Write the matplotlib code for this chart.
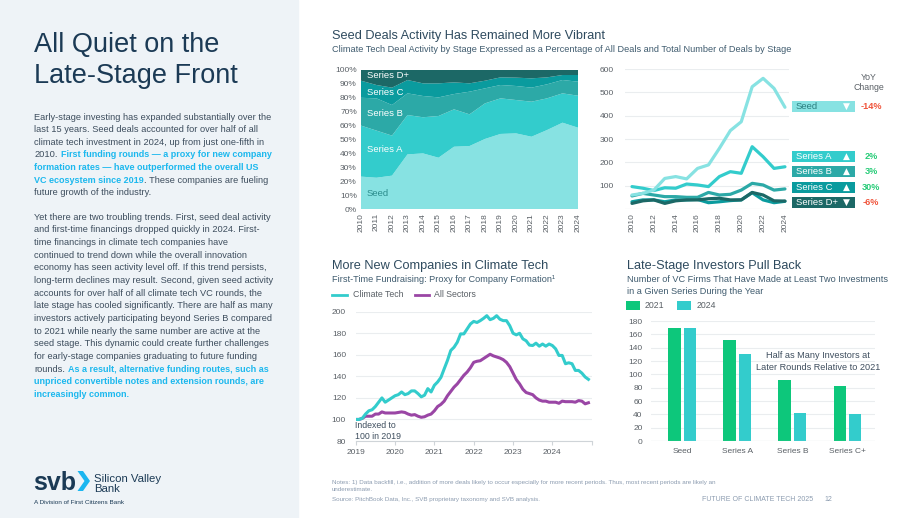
import matplotlib
matplotlib.use("Agg")
import matplotlib.pyplot as plt
from matplotlib.patches import Rectangle, Polygon
import numpy as np


# =========================================================
# Data
# =========================================================
STACK_YEARS = list(range(2010, 2025))
STACK_SEED = [23.3, 22.5, 24.0, 39.3, 40.0, 36.9, 44.8, 45.3, 50.4, 54.0, 54.4, 52.0, 56.8, 62.1, 58.5]
STACK_A    = [36.7, 33.9, 28.8, 28.3, 26.0, 30.0, 26.9, 22.8, 25.6, 25.6, 24.0, 25.2, 22.8, 21.1, 23.0]
STACK_B    = [20.0, 23.2, 22.0, 15.6, 15.3, 13.4, 11.0, 16.3, 10.8, 9.6, 10.1, 10.1, 10.1, 9.6, 10.1]
STACK_C    = [12.3, 9.6, 12.5, 9.6, 9.1, 10.1, 8.4, 6.0, 5.5, 5.5, 6.0, 6.7, 5.0, 3.6, 4.8]
STACK_D    = [7.7, 10.8, 12.7, 7.2, 9.6, 9.6, 8.9, 9.6, 7.7, 5.3, 5.5, 6.0, 5.3, 3.6, 3.6]

DEAL_YEARS = list(range(2010, 2025))
DEALS_SEED = [60, 67, 81, 131, 139, 129, 174, 189, 260, 336, 374, 524, 560, 517, 436]
DEALS_A    = [96, 89, 79, 91, 89, 107, 103, 96, 139, 160, 153, 267, 224, 174, 181]
DEALS_B    = [56, 67, 60, 53, 53, 50, 50, 71, 60, 63, 81, 110, 103, 81, 86]
DEALS_C    = [31, 39, 39, 31, 39, 39, 41, 27, 31, 36, 39, 70, 39, 27, 33]
DEALS_D    = [24, 35, 39, 24, 35, 39, 39, 44, 46, 39, 39, 71, 60, 35, 34]

YOY_LABELS = ["Seed", "Series A", "Series B", "Series C", "Series D+"]
YOY_VALUES = ["-14%", "2%", "3%", "30%", "-6%"]
YOY_UP     = [False, True, True, True, False]

# monthly index, Jan 2019 .. Dec 2024
CLIMATE_TECH = [100, 100, 101, 105, 108, 109, 112, 116, 120, 116, 118, 120,
                122, 123, 125.5, 123, 124, 126.5, 126.5, 124, 121, 122.5, 128.6, 125.5,
                131.7, 134.8, 139, 147, 154.8, 164, 167, 171.7, 179.4, 179.4, 184, 188.6,
                191, 190, 191.7, 193.8, 196.3, 192.6, 193.8, 196.3, 193, 191.7, 191.7, 187,
                180, 178.5, 180, 174.8, 173, 169, 168.6, 170.8, 168, 170, 168, 170,
                168.6, 165.5, 159.4, 159.4, 151.7, 152.6, 151.7, 145.5, 145.5, 143, 139.4, 137.2]
ALL_SECTORS = [100, 100, 101, 103, 103, 103, 105, 105, 107, 106, 106, 106,
               106, 106.5, 107, 106.5, 105, 104, 104.5, 103, 102, 102.5, 104, 105,
               108, 112, 114, 117, 122, 126, 130, 133, 137, 141, 144, 148,
               153, 154, 154.5, 156.5, 158.5, 160.5, 159, 158, 157, 155.5, 153, 149,
               143, 137, 133, 128, 125, 124, 123, 120, 118, 117, 117, 116,
               116, 116, 115, 117, 116.5, 116.5, 116.5, 116, 117.5, 117, 114.5, 115.5]

BAR_CATS = ["Seed", "Series A", "Series B", "Series C+"]
BAR_2021 = [169, 151, 91, 82]
BAR_2024 = [170, 130, 42, 41]


# =========================================================
# Style
# =========================================================
W, H = 920, 518
FONT = ["Liberation Sans", "DejaVu Sans"]
NARROW = ["Liberation Sans Narrow", "Liberation Sans", "DejaVu Sans"]
plt.rcParams["font.family"] = FONT

PANEL  = "#EEF3F7"
NAVY   = "#1B3A55"
BODY   = "#3E4E5E"
CYAN   = "#1CB8EE"
TITLE  = "#2E4A5E"
SUB    = "#3F5B6E"
TICK   = "#5A6066"
GRID   = "#EAEDEF"
AXLINE = "#CFD4D8"
NOTE   = "#8C9CB0"

SEED_C = "#87E2E2"
A_C    = "#33CCCC"
B_C    = "#2CA9A7"
C_C    = "#0A9B9E"
D_C    = "#1C6866"
GREEN  = "#0DC77B"
RED    = "#F0553C"
UPC    = "#27CC78"
PURPLE = "#9A46A5"

T_SIZE = 9.2
S_SIZE = 6.55


def rect(x0, y0, x1, y1):
    return [x0 / W, 1 - y1 / H, (x1 - x0) / W, (y1 - y0) / H]


def clean(ax):
    for s in ax.spines.values():
        s.set_visible(False)
    ax.set_facecolor("none")
    ax.tick_params(colors=TICK, labelsize=6, length=0, pad=3)


def body_line(ax, x, y, segments, size=6.7, bold_size=6.5):
    prev = None
    for txt, hl in segments:
        kw = dict(fontsize=bold_size if hl else size, color=CYAN if hl else BODY,
                  fontweight="bold" if hl else "normal")
        gap = 0
        if txt.startswith(" "):
            txt = txt[1:]
            gap = size * 0.28
        if prev is None:
            prev = ax.text(x, y, txt, va="baseline", ha="left", **kw)
        else:
            prev = ax.annotate(txt, xy=(1, 0), xycoords=prev, xytext=(gap, 0),
                               textcoords="offset points", va="bottom", ha="left", **kw)


# =========================================================
# Figure + background
# =========================================================
fig = plt.figure(figsize=(9.2, 5.18), dpi=100)
bg = fig.add_axes([0, 0, 1, 1])
bg.set_xlim(0, W)
bg.set_ylim(H, 0)
bg.axis("off")
bg.add_patch(Rectangle((0, 0), 298, H, color=PANEL, zorder=0))

# ---- left column ----
bg.text(34, 52, "All Quiet on the", fontsize=19.5, color=NAVY, va="baseline")
bg.text(34, 83, "Late-Stage Front", fontsize=19.5, color=NAVY, va="baseline")

PARA = [
    (119.5, [("Early-stage investing has expanded substantially over the", False)]),
    (132, [("last 15 years. Seed deals accounted for over half of all", False)]),
    (144.7, [("climate tech investment in 2024, up from just one-fifth in", False)]),
    (157.3, [("2010.", False), (" First funding rounds — a proxy for new company", True)]),
    (170, [("formation rates — have outperformed the overall US", True)]),
    (182.7, [("VC ecosystem since 2019", True), (". These companies are fueling", False)]),
    (195.3, [("future growth of the industry.", False)]),
    (219.7, [("Yet there are two troubling trends. First, seed deal activity", False)]),
    (232.3, [("and first-time financings dropped quickly in 2024. First-", False)]),
    (245, [("time financings in climate tech companies have", False)]),
    (257.5, [("continued to trend down while the overall innovation", False)]),
    (270.2, [("economy has seen activity level off. If this trend persists,", False)]),
    (282.8, [("long-term declines may result. Second, given seed activity", False)]),
    (295.5, [("accounts for over half of all climate tech VC rounds, the", False)]),
    (308.2, [("late stage has cooled significantly. There are half as many", False)]),
    (320.8, [("investors actively participating beyond Series B compared", False)]),
    (333.5, [("to 2021 while nearly the same number are active at the", False)]),
    (346.2, [("seed stage. This dynamic could create further challenges", False)]),
    (358.8, [("for early-stage companies graduating to future funding", False)]),
    (371.5, [("rounds.", False), (" As a result, alternative funding routes, such as", True)]),
    (384.2, [("unpriced convertible notes and extension rounds, are", True)]),
    (396.8, [("increasingly common.", True)]),
]
for yy, segs in PARA:
    body_line(bg, 34.5, yy, segs)

# ---- logo ----
bg.text(33, 490, "svb", fontsize=18, fontweight="bold", color=NAVY, va="baseline")
bg.add_patch(Polygon([(77.5, 471), (83, 471), (90, 481), (83, 491), (77.5, 491), (84.5, 481)],
                     closed=True, color="#1BB6F0", lw=0))
bg.text(94, 482.5, "Silicon Valley", fontsize=8.2, color=NAVY, va="baseline")
bg.text(94, 492.5, "Bank", fontsize=8.2, color=NAVY, va="baseline")
bg.text(34, 503.5, "A Division of First Citizens Bank", fontsize=4.6, color=NAVY, va="baseline")

# =========================================================
# Chart 1: stacked percent area
# =========================================================
bg.text(332, 38.5, "Seed Deals Activity Has Remained More Vibrant", fontsize=T_SIZE,
        color=TITLE, va="baseline", family=NARROW)
bg.text(332, 51.5, "Climate Tech Deal Activity by Stage Expressed as a Percentage of All Deals "
        "and Total Number of Deals by Stage", fontsize=S_SIZE, color=SUB, va="baseline", family=NARROW)

ax1 = fig.add_axes(rect(361, 70, 578, 209))
clean(ax1)
ax1.stackplot(STACK_YEARS, STACK_SEED, STACK_A, STACK_B, STACK_C, STACK_D,
              colors=[SEED_C, A_C, B_C, C_C, D_C], lw=0)
ax1.set_xlim(2010, 2024)
ax1.set_ylim(0, 100)
ax1.set_yticks(range(0, 101, 10))
ax1.set_yticklabels([f"{v}%" for v in range(0, 101, 10)])
ax1.set_xticks(STACK_YEARS)
ax1.set_xticklabels([str(y) for y in STACK_YEARS], rotation=90)

# =========================================================
# Chart 2: number of deals by stage
# =========================================================
ax2 = fig.add_axes(rect(625, 69, 789, 209))
clean(ax2)
ax2.set_xlim(2009.36, 2024.37)
ax2.set_ylim(0, 600)
ax2.set_yticks(range(100, 601, 100))
ax2.grid(axis="y", color=GRID, lw=0.8)
ax2.axhline(0, color=AXLINE, lw=0.8)
ax2.set_xticks(range(2010, 2025, 2))
ax2.set_xticklabels([str(y) for y in range(2010, 2025, 2)], rotation=90)
ax2.tick_params(axis="y", pad=8)
for vals, col in [(DEALS_C, C_C), (DEALS_B, B_C), (DEALS_D, D_C), (DEALS_A, A_C), (DEALS_SEED, SEED_C)]:
    ax2.plot(DEAL_YEARS, vals, color=col, lw=2.3, solid_joinstyle="round", solid_capstyle="round")

bg.text(869, 78, "YoY", fontsize=6.3, color=TICK, ha="center", va="center")
bg.text(869, 87, "Change", fontsize=6.3, color=TICK, ha="center", va="center")
box_tops = [101, 150.5, 166, 182, 197]
box_cols = [SEED_C, A_C, B_C, C_C, D_C]
for lab, val, up, top, col in zip(YOY_LABELS, YOY_VALUES, YOY_UP, box_tops, box_cols):
    bg.add_patch(Rectangle((792, top), 63, 11, color=col, lw=0))
    tcol = "#2B7F80" if lab == "Seed" else "white"
    bg.text(796, top + 5.7, lab, fontsize=6.8, color=tcol, va="center")
    bg.text(846, top + 5.7, "▲" if up else "▼", fontsize=6.5, color="white",
            ha="center", va="center", family=["DejaVu Sans"])
    bg.text(871, top + 5.7, val, fontsize=6.6, fontweight="bold",
            color=UPC if up else RED, ha="center", va="center")

# =========================================================
# Chart 3: first-time fundraising index
# =========================================================
bg.text(332, 269, "More New Companies in Climate Tech", fontsize=T_SIZE,
        color=TITLE, va="baseline", family=NARROW)
bg.text(332, 282, "First-Time Fundraising: Proxy for Company Formation¹", fontsize=S_SIZE,
        color=SUB, va="baseline", family=NARROW)
bg.plot([332, 347], [294.5, 294.5], color=A_C, lw=2)
bg.text(353, 294.5, "Climate Tech", fontsize=6.3, color=TICK, va="center")
bg.plot([415, 429], [294.5, 294.5], color=PURPLE, lw=2)
bg.text(434, 294.5, "All Sectors", fontsize=6.3, color=TICK, va="center")

months = 2019 + np.arange(len(CLIMATE_TECH)) / 12.0
ax3 = fig.add_axes(rect(355.7, 311.7, 591.7, 441))
clean(ax3)
ax3.set_xlim(2019, 2025)
ax3.set_ylim(80, 200)
ax3.set_yticks(range(80, 201, 20))
ax3.grid(axis="y", color=GRID, lw=0.8)
ax3.spines["bottom"].set_visible(True)
ax3.spines["bottom"].set_color(AXLINE)
ax3.set_xticks(range(2019, 2026))
ax3.set_xticklabels([str(y) for y in range(2019, 2025)] + [""])
ax3.tick_params(axis="x", length=3, color=AXLINE)
ax3.tick_params(axis="y", pad=7)
ax3.plot(months, ALL_SECTORS, color=PURPLE, lw=2.2, solid_joinstyle="round")
ax3.plot(months, CLIMATE_TECH, color=A_C, lw=2.2, solid_joinstyle="round")

# =========================================================
# Chart 4: investors by series
# =========================================================
bg.text(627, 269, "Late-Stage Investors Pull Back", fontsize=T_SIZE,
        color=TITLE, va="baseline", family=NARROW)
bg.text(627, 282, "Number of VC Firms That Have Made at Least Two Investments", fontsize=S_SIZE,
        color=SUB, va="baseline", family=NARROW)
bg.text(627, 294, "in a Given Series During the Year", fontsize=S_SIZE,
        color=SUB, va="baseline", family=NARROW)
bg.add_patch(Rectangle((626, 301), 14, 9, color=GREEN, lw=0))
bg.text(645, 305.7, "2021", fontsize=6.3, color=TICK, va="center")
bg.add_patch(Rectangle((677.5, 301), 14, 9, color=A_C, lw=0))
bg.text(697, 305.7, "2024", fontsize=6.3, color=TICK, va="center")

ax4 = fig.add_axes(rect(651, 321, 875, 441))
clean(ax4)
xpos = np.arange(len(BAR_CATS))
ax4.bar(xpos - 0.14, BAR_2021, width=0.227, color=GREEN, zorder=3)
ax4.bar(xpos + 0.14, BAR_2024, width=0.227, color=A_C, zorder=3)
ax4.set_xlim(-0.57, 3.5)
ax4.set_ylim(0, 180)
ax4.set_yticks(range(0, 181, 20))
ax4.grid(axis="y", color=GRID, lw=0.8, zorder=0)
ax4.axhline(0, color=AXLINE, lw=0.8, zorder=4)
ax4.set_xticks(xpos)
ax4.set_xticklabels(BAR_CATS)
ax4.tick_params(axis="x", pad=5)
ax4.tick_params(axis="y", pad=6)

# =========================================================
# Overlay texts (on top of the chart axes)
# =========================================================
fg = fig.add_axes([0, 0, 1, 1])
fg.set_xlim(0, W)
fg.set_ylim(H, 0)
fg.axis("off")
for lab, yy, col in [("Series D+", 75.5, "white"), ("Series C", 92.5, "white"),
                     ("Series B", 113, "white"), ("Series A", 149.5, "white"),
                     ("Seed", 193, "#2B8C8C")]:
    fg.text(367, yy, lab, fontsize=6.8, color=col, va="center")
fg.text(355, 426, "Indexed to", fontsize=6.3, color=BODY, va="center")
fg.text(355, 436.5, "100 in 2019", fontsize=6.3, color=BODY, va="center")
fg.text(818, 356, "Half as Many Investors at", fontsize=6.6, color=BODY, ha="center", va="center")
fg.text(818, 367, "Later Rounds Relative to 2021", fontsize=6.6, color=BODY, ha="center", va="center")

# =========================================================
# Footer
# =========================================================
fg.text(332, 484, "Notes: 1) Data backfill, i.e., addition of more deals likely to occur especially for "
        "more recent periods. Thus, most recent periods are likely an", fontsize=4.5, color=NOTE,
        va="baseline")
fg.text(332, 491, "underestimate.", fontsize=4.5, color=NOTE, va="baseline")
fg.text(332, 501, "Source: PitchBook Data, Inc., SVB proprietary taxonomy and SVB analysis.",
        fontsize=4.5, color=NOTE, va="baseline")
fg.text(813, 501, "FUTURE OF CLIMATE TECH 2025", fontsize=5.0, color=NOTE, ha="right", va="baseline")
fg.text(832, 501, "12", fontsize=5.0, color=NOTE, ha="right", va="baseline")

fig.savefig("out.png", dpi=100)
